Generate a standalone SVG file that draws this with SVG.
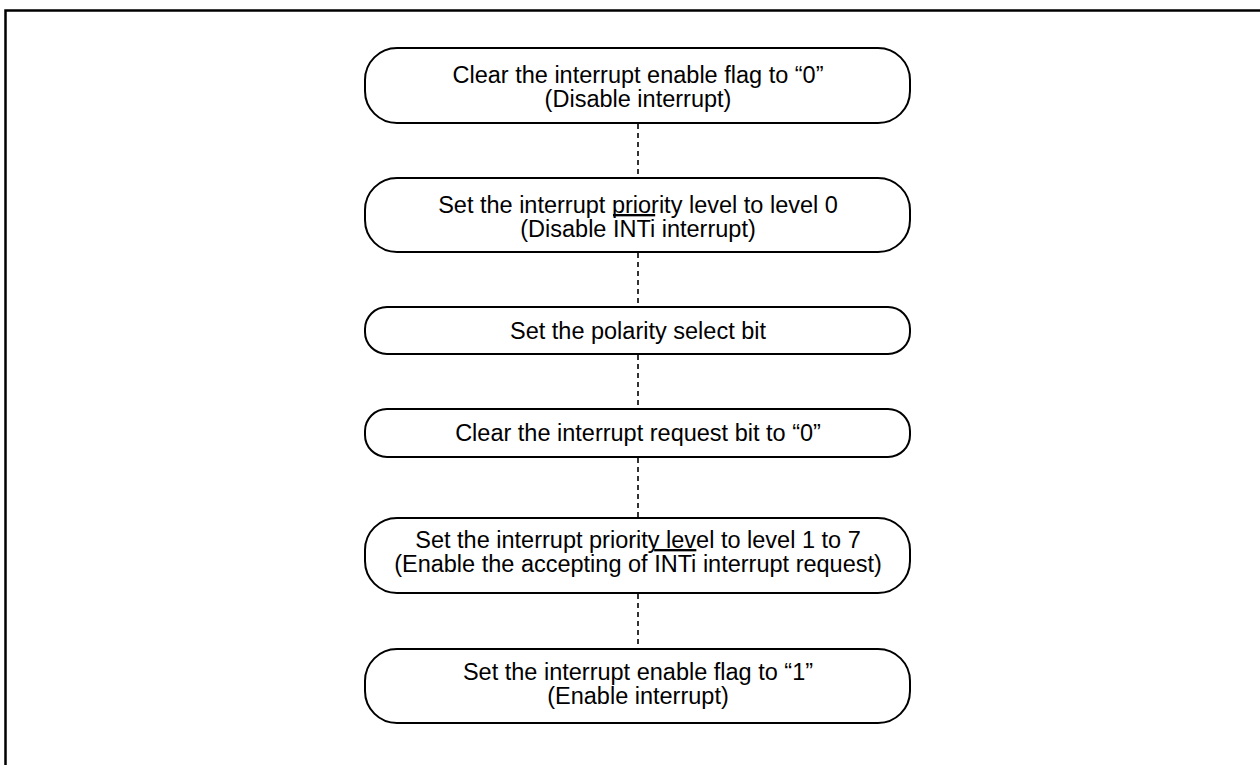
<svg xmlns="http://www.w3.org/2000/svg" width="1260" height="765" viewBox="0 0 1260 765">
<style>
.frame{fill:none;stroke:#000;stroke-width:2.5}
.box{fill:#fff;stroke:#000;stroke-width:2}
.conn{fill:none;stroke:#000;stroke-width:1.6;stroke-dasharray:5,4}
text{font-family:"Liberation Sans",Arial,sans-serif;font-size:23.5px;fill:#000;text-anchor:middle}
.ov{text-decoration:overline}
</style>
<rect class="frame" x="5.5" y="10.5" width="1270" height="770"/>
<g id="connectors">
<line class="conn" x1="638" y1="124" x2="638" y2="178"/>
<line class="conn" x1="638" y1="253" x2="638" y2="307"/>
<line class="conn" x1="638" y1="355" x2="638" y2="409"/>
<line class="conn" x1="638" y1="458" x2="638" y2="518"/>
<line class="conn" x1="638" y1="594" x2="638" y2="649"/>
</g>
<g id="n1">
<rect class="box" x="365" y="48" width="545" height="75" rx="32" ry="32"/>
<text x="638" y="83">Clear the interrupt enable flag to “0”</text>
<text x="638" y="107">(Disable interrupt)</text>
</g>
<g id="n2">
<rect class="box" x="365" y="178" width="545" height="74" rx="32" ry="32"/>
<text x="638" y="213">Set the interrupt priority level to level 0</text>
<text x="638" y="237">(Disable <tspan class="ov">INTi</tspan> interrupt)</text>
</g>
<g id="n3">
<rect class="box" x="365" y="307" width="545" height="47" rx="22" ry="22"/>
<text x="638" y="339">Set the polarity select bit</text>
</g>
<g id="n4">
<rect class="box" x="365" y="409" width="545" height="48" rx="22" ry="22"/>
<text x="638" y="441">Clear the interrupt request bit to “0”</text>
</g>
<g id="n5">
<rect class="box" x="365" y="518" width="545" height="75" rx="32" ry="32"/>
<text x="638" y="548">Set the interrupt priority level to level 1 to 7</text>
<text x="638" y="572">(Enable the accepting of <tspan class="ov">INTi</tspan> interrupt request)</text>
</g>
<g id="n6">
<rect class="box" x="365" y="649" width="545" height="74" rx="32" ry="32"/>
<text x="638" y="680">Set the interrupt enable flag to “1”</text>
<text x="638" y="704">(Enable interrupt)</text>
</g>
</svg>
